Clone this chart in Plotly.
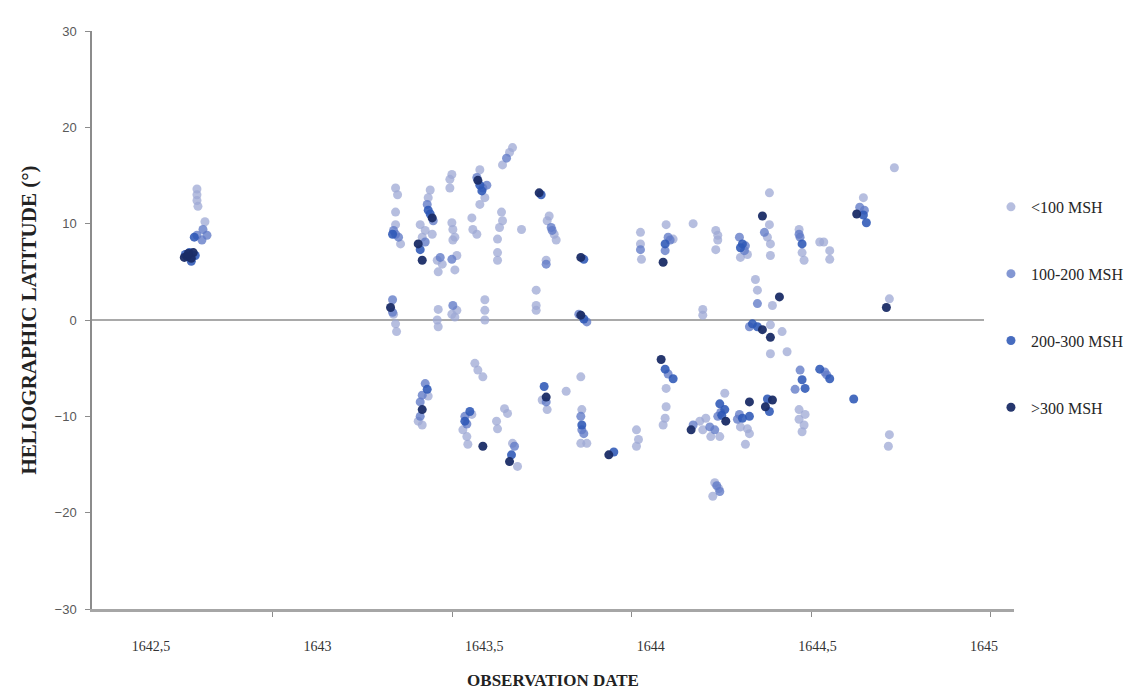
import plotly.graph_objects as go

# ---- data: observation date (decimal year) and heliographic latitude (deg) ----
date_lt100 = [1642.638, 1642.638, 1642.638, 1642.641, 1642.662,
              1643.234, 1643.240, 1643.234, 1643.234, 1643.249, 1643.228, 1643.234, 1643.237,
              1643.338, 1643.332, 1643.308, 1643.323, 1643.344, 1643.314, 1643.332, 1643.314, 1643.302,
              1643.403, 1643.397, 1643.397, 1643.403, 1643.406, 1643.412, 1643.406, 1643.359, 1643.374,
              1643.362, 1643.418, 1643.412, 1643.362, 1643.359, 1643.362, 1643.418, 1643.412, 1643.403,
              1643.463, 1643.448, 1643.451, 1643.436,
              1643.487, 1643.502, 1643.487, 1643.463, 1643.466, 1643.478, 1643.502, 1643.502, 1643.502,
              1643.472, 1643.481, 1643.496, 1643.585, 1643.600,
              1643.585, 1643.576, 1643.555, 1643.552, 1643.555, 1643.546, 1643.540, 1643.540, 1643.540,
              1643.612, 1643.561, 1643.570, 1643.537, 1643.540,
              1643.695, 1643.710, 1643.716, 1643.689, 1643.686, 1643.656, 1643.656, 1643.656, 1643.689,
              1643.746, 1643.674,
              1643.790, 1643.793, 1643.790, 1643.808,
              1643.969, 1643.969, 1643.972, 1643.957, 1643.963, 1643.957,
              1644.046, 1644.067, 1644.046, 1644.046, 1644.043, 1644.037,
              1644.127, 1644.156, 1644.156, 1644.147, 1644.165, 1644.156, 1644.222, 1644.180, 1644.207,
              1644.192, 1644.204, 1644.186,
              1644.195, 1644.201, 1644.195, 1644.201,
              1644.269, 1644.290, 1644.269, 1644.290, 1644.284, 1644.296,
              1644.356, 1644.356, 1644.359, 1644.359, 1644.350, 1644.314, 1644.320, 1644.365, 1644.359,
              1644.394, 1644.359, 1644.409,
              1644.445, 1644.454, 1644.460, 1644.445, 1644.445, 1644.460, 1644.454, 1644.463, 1644.507,
              1644.519, 1644.537, 1644.537, 1644.731, 1644.638, 1644.716, 1644.716, 1644.713]
lat_lt100 = [13.6, 13.0, 12.4, 11.8, 10.2,
             13.7, 13.0, 11.2, 9.9, 7.9, 0.6, -0.4, -1.2,
             13.5, 12.7, 9.9, 9.3, 8.9, 8.6, -7.9, -10.9, -10.5,
             15.1, 14.6, 13.7, 10.1, 9.4, 8.6, 8.3, 6.2, 5.8,
             5.0, 6.7, 5.2, 1.1, 0.0, -0.7, 1.0, 0.3, 0.6,
             -9.8, -12.1, -12.9, -11.4,
             15.6, 12.7, 12.0, 10.6, 9.4, 8.9, 2.1, 1.0, 0.0,
             -4.5, -5.2, -5.9, -12.8, -15.2,
             17.9, 17.4, 16.1, 11.2, 10.3, 9.6, 8.4, 7.0, 6.2,
             9.4, -9.2, -9.7, -10.5, -11.3,
             10.8, 8.9, 8.3, 10.3, 6.2, 3.1, 1.5, 1.0, -9.3,
             -7.4, -8.3,
             -5.9, -9.3, -12.8, -12.8,
             9.1, 7.9, 6.3, -11.4, -12.4, -13.1,
             9.9, 8.4, -7.1, -9.0, -10.2, -10.9,
             10.0, 1.1, 0.5, -10.5, -10.2, -11.4, -7.6, -12.1, -12.1,
             -16.9, -17.5, -18.3,
             9.3, 8.3, 7.3, 8.8,
             6.5, 6.8, -11.1, -11.3, -12.9, -11.8,
             13.2, 9.9, 7.9, 6.7, 8.6, 4.2, 3.1, 1.5, -0.5,
             -1.2, -3.5, -3.3,
             9.4, 7.0, 6.2, -9.3, -10.3, -10.9, -11.6, -9.8, 8.1,
             8.1, 7.2, 6.3, 15.8, 12.7, 2.2, -11.9, -13.1]

date_100_200 = [1642.656, 1642.638, 1642.668, 1642.653,
                1643.228, 1643.234, 1643.243, 1643.225, 1643.225,
                1643.329, 1643.347, 1643.323, 1643.323, 1643.314, 1643.308, 1643.308,
                1643.368, 1643.403, 1643.406, 1643.442, 1643.448,
                1643.478, 1643.496, 1643.508, 1643.591,
                1643.567,
                1643.701, 1643.704, 1643.686, 1643.686,
                1643.808, 1643.784, 1643.790, 1643.799, 1643.793,
                1643.969,
                1644.052, 1644.058, 1644.043, 1644.052,
                1644.127, 1644.177, 1644.192, 1644.201, 1644.210,
                1644.198, 1644.207,
                1644.266, 1644.281, 1644.284, 1644.266, 1644.260,
                1644.341, 1644.320, 1644.296,
                1644.448, 1644.445, 1644.448, 1644.433,
                1644.627, 1644.641, 1644.528, 1644.522]
lat_100_200 = [9.4, 8.8, 8.8, 8.3,
               9.3, 8.9, 8.6, 2.1, 0.8,
               12.0, 10.3, 8.1, -6.6, -7.8, -8.5, -10.0,
               6.5, 6.3, 1.5, -10.0, -10.8,
               14.8, 13.7, 14.0, -13.1,
               16.8,
               9.6, 9.3, 5.8, -8.5,
               -0.2, 0.6, -10.0, -11.8, -11.4,
               7.3,
               8.6, 8.3, 7.2, -5.6,
               -10.9, -11.1, -11.4, -10.0, -9.6,
               -17.2, -17.8,
               8.6, 7.2, 7.7, -9.8, -10.3,
               9.1, 1.7, -0.7,
               8.6, 8.9, -5.2, -7.2,
               11.7, 11.4, -5.7, -5.4]

date_200_300 = [1642.630, 1642.603, 1642.615, 1642.633, 1642.621,
                1643.225,
                1643.332, 1643.338, 1643.308, 1643.329,
                1643.457, 1643.442,
                1643.487, 1643.493, 1643.582,
                1643.671, 1643.680,
                1643.799, 1643.799, 1643.793,
                1643.889,
                1644.043, 1644.043, 1644.067,
                1644.207, 1644.222, 1644.213,
                1644.275, 1644.269, 1644.275, 1644.296,
                1644.305, 1644.320, 1644.350, 1644.356,
                1644.454, 1644.454, 1644.463,
                1644.638, 1644.647, 1644.507, 1644.537, 1644.609]
lat_200_300 = [8.6, 6.8, 7.0, 6.7, 6.1,
               8.9,
               11.4, 11.0, 7.3, -7.2,
               -9.5, -10.5,
               14.0, 13.4, -14.0,
               13.0, -6.9,
               6.3, 0.1, -10.9,
               -13.7,
               7.9, -5.1, -6.1,
               -8.7, -9.3, -9.9,
               7.9, 7.5, -10.2, -10.0,
               -0.4, -0.7, -8.2, -9.5,
               7.9, -6.2, -7.1,
               10.9, 10.1, -5.1, -6.1, -8.2]

date_gt300 = [1642.600, 1642.609, 1642.627, 1642.621, 1642.612,
              1643.219,
              1643.344, 1643.302, 1643.314, 1643.314,
              1643.481, 1643.496, 1643.576,
              1643.665, 1643.686,
              1643.790, 1643.790,
              1643.874,
              1644.037, 1644.031,
              1644.121, 1644.225,
              1644.296,
              1644.335, 1644.386, 1644.335, 1644.359, 1644.365, 1644.344,
              1644.618, 1644.707]
lat_gt300 = [6.5, 6.6, 7.0, 6.4, 6.9,
             1.3,
             10.6, 7.9, 6.2, -9.3,
             14.5, -13.1, -14.7,
             13.2, -8.0,
             6.5, 0.5,
             -14.0,
             6.0, -4.1,
             -11.4, -10.5,
             -8.5,
             10.8, 2.4, -1.0, -1.8, -8.3, -9.0,
             11.0, 1.3]

series_names = ["<100 MSH", "100-200 MSH", "200-300 MSH", ">300 MSH"]
series_dates = [date_lt100, date_100_200, date_200_300, date_gt300]
series_lats = [lat_lt100, lat_100_200, lat_200_300, lat_gt300]
series_colors = ["rgba(158,168,212,0.75)", "rgba(96,122,198,0.78)",
                 "rgba(45,88,182,0.88)", "rgba(26,44,102,0.95)"]

x_tickvals = [1642.5, 1643.0, 1643.5, 1644.0, 1644.5, 1645.0]
x_ticktext = ["1642,5", "1643", "1643,5", "1644", "1644,5", "1645"]
x_tickmarks = [1642.865, 1643.404, 1643.942, 1644.481, 1645.02]
y_tickvals = [-30, -20, -10, 0, 10, 20, 30]

x_range = [1642.323, 1645.09]
zero_line_end = 1645.0

fig = go.Figure()
for name, xs, ys, col in zip(series_names, series_dates, series_lats, series_colors):
    fig.add_trace(go.Scatter(
        x=xs, y=ys, mode="markers", name=name, legendgroup=name,
        marker=dict(size=9, color=col, line=dict(width=0)),
    ))

fig.add_shape(type="line", xref="x", yref="y", x0=x_range[0], x1=zero_line_end,
              y0=0, y1=0, line=dict(color="#8c8c8c", width=1.5), layer="below")

fig.update_layout(
    width=1133, height=692,
    margin=dict(l=84, r=120, t=23, b=87),
    paper_bgcolor="white", plot_bgcolor="white",
    font=dict(family="Liberation Serif", color="#222222"),
    showlegend=True,
    legend=dict(x=0.975, xanchor="left", y=0.725, yanchor="top",
                font=dict(family="Liberation Serif", size=16, color="#262626"),
                tracegroupgap=43, bgcolor="rgba(0,0,0,0)", itemsizing="trace"),
    xaxis=dict(
        range=x_range, showgrid=False, zeroline=False,
        showline=True, linecolor="#a6a6a6", linewidth=3,
        tickmode="array", tickvals=x_tickvals, ticktext=x_ticktext,
        ticks="", ticklabelstandoff=22,
        tickfont=dict(family="Liberation Serif", size=14, color="#333333"),
        minor=dict(tickmode="array", tickvals=x_tickmarks, ticks="outside",
                   ticklen=5, tickwidth=1, tickcolor="#8c8c8c", showgrid=False),
        title=dict(text="<b>OBSERVATION DATE</b>", standoff=22,
                   font=dict(family="Liberation Serif", size=17, color="#222222")),
    ),
    yaxis=dict(
        range=[-30, 30], showgrid=False, zeroline=False,
        showline=True, linecolor="#8c8c8c", linewidth=1.5,
        tickmode="array", tickvals=y_tickvals,
        ticks="outside", ticklen=5, tickcolor="#8c8c8c", ticklabelstandoff=6,
        tickfont=dict(family="Liberation Sans", size=13, color="#595959"),
        title=dict(text="<b>HELIOGRAPHIC LATITUDE (°)</b>", standoff=12,
                   font=dict(family="Liberation Serif", size=21, color="#222222")),
    ),
)

fig.write_html("out.html")
